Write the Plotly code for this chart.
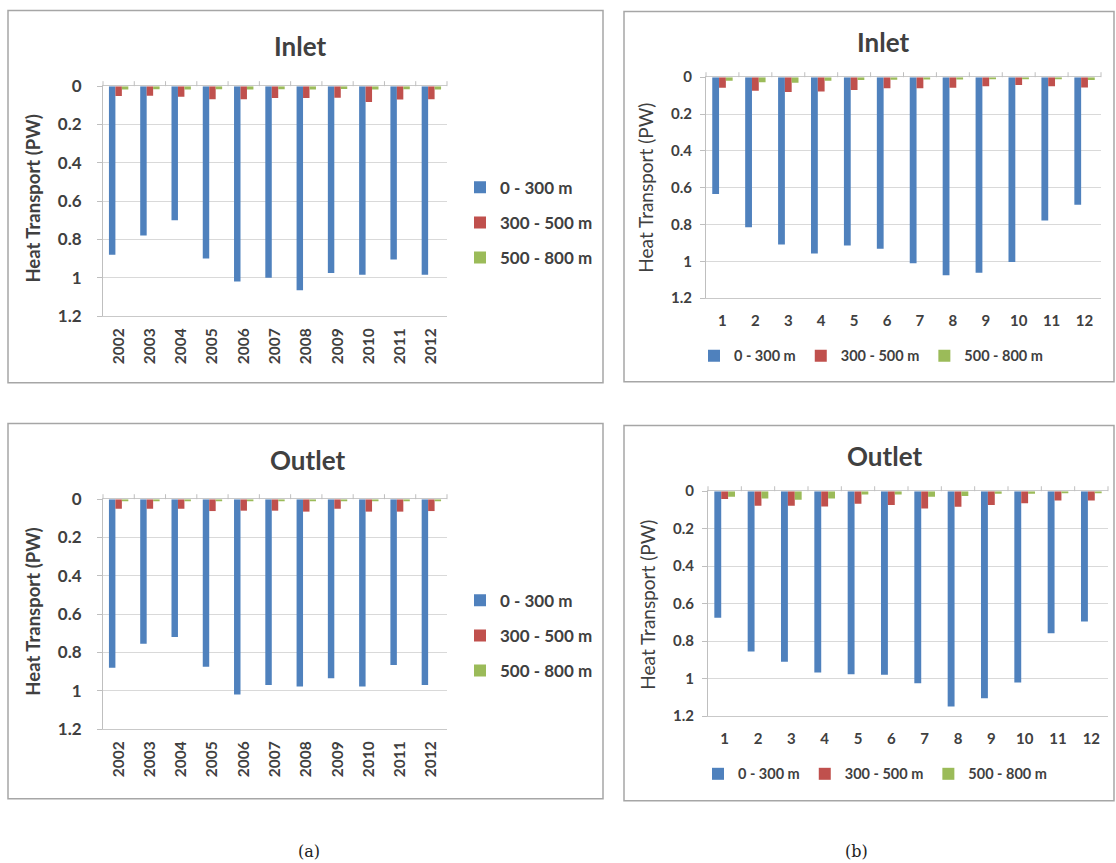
import plotly.graph_objects as go

W, H = 1116, 863

# ---------------- data ----------------
years = ["2002", "2003", "2004", "2005", "2006", "2007", "2008", "2009", "2010", "2011", "2012"]
months = ["1", "2", "3", "4", "5", "6", "7", "8", "9", "10", "11", "12"]
series_names = ["0 - 300 m", "300 - 500 m", "500 - 800 m"]
series_colors = ["#4F81BD", "#C0504D", "#9BBB59"]

inlet_year_0_300 = [0.88, 0.78, 0.70, 0.90, 1.02, 1.00, 1.065, 0.975, 0.985, 0.905, 0.985]
inlet_year_300_500 = [0.052, 0.050, 0.055, 0.069, 0.069, 0.062, 0.062, 0.060, 0.083, 0.070, 0.068]
inlet_year_500_800 = [0.017, 0.016, 0.017, 0.016, 0.017, 0.016, 0.017, 0.015, 0.018, 0.016, 0.017]

outlet_year_0_300 = [0.88, 0.755, 0.72, 0.875, 1.02, 0.97, 0.978, 0.935, 0.978, 0.866, 0.97]
outlet_year_300_500 = [0.050, 0.050, 0.050, 0.062, 0.060, 0.060, 0.065, 0.050, 0.065, 0.065, 0.062]
outlet_year_500_800 = [0.009, 0.008, 0.009, 0.009, 0.009, 0.008, 0.009, 0.008, 0.009, 0.008, 0.009]

inlet_month_0_300 = [0.635, 0.815, 0.909, 0.957, 0.914, 0.932, 1.011, 1.076, 1.062, 1.004, 0.779, 0.693]
inlet_month_300_500 = [0.058, 0.074, 0.081, 0.078, 0.069, 0.060, 0.060, 0.058, 0.049, 0.042, 0.049, 0.056]
inlet_month_500_800 = [0.020, 0.027, 0.030, 0.020, 0.015, 0.014, 0.012, 0.012, 0.010, 0.010, 0.010, 0.015]

outlet_month_0_300 = [0.675, 0.855, 0.910, 0.967, 0.976, 0.979, 1.025, 1.149, 1.105, 1.020, 0.758, 0.695]
outlet_month_300_500 = [0.042, 0.078, 0.078, 0.081, 0.067, 0.074, 0.092, 0.083, 0.074, 0.064, 0.050, 0.050]
outlet_month_500_800 = [0.030, 0.039, 0.046, 0.039, 0.018, 0.018, 0.030, 0.025, 0.014, 0.014, 0.010, 0.007]

y_ticks = [0, 0.2, 0.4, 0.6, 0.8, 1, 1.2]
y_tick_labels = ["0", "0.2", "0.4", "0.6", "0.8", "1", "1.2"]

FONT = "Lato"
TXT = "#404040"

# vertical placement calibration (observed rendering: ~8.5 px offset, ~846 px effective height)
Y_OFF, H_EFF = 8.5, 846.0

def px_x(x):
    return x / W

def px_y(y):
    return 1 - (y - Y_OFF) / H_EFF

panels = [
    dict(ax="", cats=years, vals=[inlet_year_0_300, inlet_year_300_500, inlet_year_500_800],
         legend="legend", title="Inlet", box=(103, 447, 84, 315), tpos=(300, 44),
         ylab=(33, 197), left=True, frame=(8, 603, 8, 382), leg=(460, 168)),
    dict(ax="2", cats=months, vals=[inlet_month_0_300, inlet_month_300_500, inlet_month_500_800],
         legend="legend2", title="Inlet", box=(706, 1101, 75, 297), tpos=(883, 40),
         ylab=(646, 186), left=False, frame=(624, 1114, 9, 381), leg=(694, 355)),
    dict(ax="3", cats=years, vals=[outlet_year_0_300, outlet_year_300_500, outlet_year_500_800],
         legend="legend3", title="Outlet", box=(103, 447, 499, 730), tpos=(307, 460),
         ylab=(33, 612), left=True, frame=(8, 603, 423, 800), leg=(460, 583)),
    dict(ax="4", cats=months, vals=[outlet_month_0_300, outlet_month_300_500, outlet_month_500_800],
         legend="legend4", title="Outlet", box=(708, 1108, 491, 717), tpos=(884, 456),
         ylab=(648, 605), left=False, frame=(624, 1114, 425, 802), leg=(698, 775)),
]

fig = go.Figure()
layout = dict(
    width=W, height=H, margin=dict(l=0, r=0, t=0, b=0),
    paper_bgcolor="white", plot_bgcolor="white",
    barmode="group", bargap=0.38, bargroupgap=0.0,
    font=dict(family=FONT, color=TXT),
)
shapes = []
annotations = []

for p in panels:
    xa = "x" + p["ax"]
    ya = "y" + p["ax"]
    for name, color, vals in zip(series_names, series_colors, p["vals"]):
        fig.add_trace(go.Bar(
            x=p["cats"], y=vals, name=name, marker=dict(color=color, line=dict(width=0)),
            xaxis=xa, yaxis=ya, legend=p["legend"], showlegend=True,
        ))
    x0, x1, y0, y1 = p["box"]
    ytick_size = 17 if p["left"] else 15
    xtick_size = 15.5 if p["left"] else 15
    layout["xaxis" + p["ax"]] = dict(
        domain=[px_x(x0), px_x(x1)], anchor=ya, type="category",
        showgrid=False, showline=True, mirror=True, linecolor="#c9c9c9", linewidth=1,
        ticks="", tickangle=-90 if p["left"] else 0,
        tickfont=dict(size=xtick_size, weight="bold", color=TXT, family=FONT),
        ticklabelstandoff=5 if p["left"] else 9,
    )
    layout["yaxis" + p["ax"]] = dict(
        domain=[px_y(y1), px_y(y0)], anchor=xa, range=[1.2, 0],
        tickvals=y_ticks, ticktext=y_tick_labels,
        showgrid=True, gridcolor="#d9d9d9", gridwidth=1, zeroline=False,
        showline=True, linecolor="#bfbfbf", linewidth=1,
        ticks="outside", ticklen=5, tickcolor="#bfbfbf",
        tickfont=dict(size=ytick_size, weight="bold", color=TXT, family=FONT),
        ticklabelstandoff=12 if p["left"] else 5,
    )
    n = len(p["cats"])
    dom_h = y1 - y0
    for i in range(n + 1):
        shapes.append(dict(type="line", xref=xa + " domain", yref=ya + " domain",
                           x0=i / n, x1=i / n, y0=1, y1=1 + 5 / dom_h,
                           line=dict(color="#bfbfbf", width=1)))
    fx0, fx1, fy0, fy1 = p["frame"]
    shapes.append(dict(type="rect", xref="paper", yref="paper",
                       x0=px_x(fx0), x1=px_x(fx1), y0=px_y(fy1), y1=px_y(fy0),
                       line=dict(color="#a6a6a6", width=1.5), fillcolor="rgba(0,0,0,0)", layer="below"))
    annotations.append(dict(text=p["title"], xref="paper", yref="paper",
                            x=px_x(p["tpos"][0]), y=px_y(p["tpos"][1]),
                            xanchor="center", yanchor="middle", showarrow=False,
                            font=dict(size=26, weight="bold", color=TXT, family=FONT)))
    annotations.append(dict(text="Heat Transport (PW)", xref="paper", yref="paper",
                            x=px_x(p["ylab"][0]), y=px_y(p["ylab"][1]), textangle=-90,
                            xanchor="center", yanchor="middle", showarrow=False,
                            font=dict(size=18.5 if p["left"] else 19,
                                      weight="bold" if p["left"] else "normal",
                                      color=TXT, family=FONT)))
    if p["left"]:
        layout[p["legend"]] = dict(
            x=px_x(p["leg"][0]), y=px_y(p["leg"][1]), xanchor="left", yanchor="top",
            orientation="v", font=dict(size=17, weight="bold", color=TXT, family=FONT),
            tracegroupgap=10, itemwidth=30, bgcolor="rgba(0,0,0,0)")
    else:
        layout[p["legend"]] = dict(
            x=px_x(p["leg"][0]), y=px_y(p["leg"][1]), xanchor="left", yanchor="middle",
            orientation="h", font=dict(size=14.5, weight="bold", color=TXT, family=FONT),
            itemwidth=30, bgcolor="rgba(0,0,0,0)")

for i, tr in enumerate(fig.data):
    tr.legendgroup = f"{tr.legend}_{i % 3}"

annotations.append(dict(text="(a)", xref="paper", yref="paper", x=px_x(309), y=px_y(853),
                        xanchor="center", yanchor="middle", showarrow=False,
                        font=dict(size=16, color="#222222", family="DejaVu Serif")))
annotations.append(dict(text="(b)", xref="paper", yref="paper", x=px_x(856), y=px_y(853),
                        xanchor="center", yanchor="middle", showarrow=False,
                        font=dict(size=16, color="#222222", family="DejaVu Serif")))

layout["shapes"] = shapes
layout["annotations"] = annotations
fig.update_layout(**layout)
fig.write_html(
    "out.html",
    config={"displayModeBar": False},
    post_script=(
        "document.documentElement.style.margin='0';"
        "document.body.style.margin='0';document.body.style.overflow='hidden';"
        "var d=document.getElementById('{plot_id}');"
        "d.style.position='fixed';d.style.top='0px';d.style.left='0px';"
    ),
)
